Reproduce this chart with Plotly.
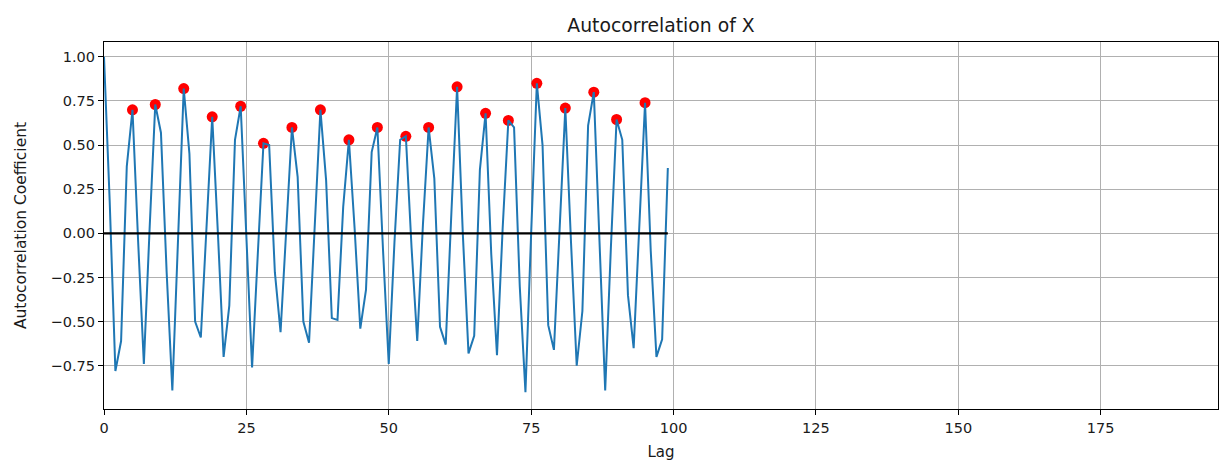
import plotly.graph_objects as go

# Autocorrelation coefficients for lags 0..99
lags = list(range(100))
acf = [
    1.00, 0.18, -0.78, -0.61, 0.38, 0.70, -0.05, -0.74, 0.02, 0.73,
    0.57, -0.22, -0.89, -0.03, 0.82, 0.45, -0.50, -0.59, 0.03, 0.66,
    0.00, -0.70, -0.41, 0.53, 0.72, 0.00, -0.76, -0.12, 0.51, 0.50,
    -0.22, -0.56, 0.00, 0.60, 0.32, -0.50, -0.62, 0.05, 0.70, 0.30,
    -0.48, -0.49, 0.15, 0.53, 0.03, -0.54, -0.32, 0.46, 0.60, -0.10,
    -0.74, -0.05, 0.53, 0.55, -0.08, -0.61, 0.05, 0.60, 0.31, -0.53,
    -0.63, 0.12, 0.83, 0.00, -0.68, -0.58, 0.36, 0.68, -0.12, -0.69,
    0.03, 0.64, 0.60, -0.30, -0.90, 0.00, 0.85, 0.50, -0.52, -0.66,
    0.02, 0.71, -0.05, -0.75, -0.44, 0.61, 0.80, 0.00, -0.89, -0.08,
    0.645, 0.53, -0.35, -0.65, 0.07, 0.74, -0.10, -0.70, -0.60, 0.37,
]

# Lags flagged as local peaks
peak_lags = [5, 9, 14, 19, 24, 28, 33, 38, 43, 48, 53, 57, 62, 67, 71, 76, 81, 86, 90, 95]
peak_vals = [acf[k] for k in peak_lags]

x_ticks = [0, 25, 50, 75, 100, 125, 150, 175]
y_ticks = [1.0, 0.75, 0.5, 0.25, 0.0, -0.25, -0.5, -0.75]
y_tick_text = [f"{v:.2f}".replace("-", "\u2212") for v in y_ticks]

font_family = "DejaVu Sans"
text_color = "#1a1a1a"

fig = go.Figure()

fig.add_trace(go.Scatter(
    x=peak_lags, y=peak_vals, mode="markers",
    marker=dict(color="#ff0000", size=11, line=dict(width=0)),
    showlegend=False,
))

fig.add_trace(go.Scatter(
    x=lags, y=acf, mode="lines",
    line=dict(color="#1f77b4", width=2),
    showlegend=False,
))

fig.add_trace(go.Scatter(
    x=[lags[0], lags[-1]], y=[0, 0], mode="lines",
    line=dict(color="#000000", width=2.2),
    showlegend=False,
))

axis_common = dict(
    showline=True, linecolor="#000000", linewidth=1.2, mirror=True,
    showgrid=True, gridcolor="#b0b0b0", gridwidth=1,
    ticks="outside", ticklen=5, tickwidth=1.2, tickcolor="#000000",
    zeroline=False,
    tickfont=dict(family=font_family, size=14.5, color=text_color),
)

fig.update_xaxes(
    range=[0, 195.6], tickvals=x_ticks, ticktext=[str(t) for t in x_ticks],
    title=dict(text="Lag", font=dict(family=font_family, size=15, color=text_color), standoff=11),
    **axis_common,
)
fig.update_yaxes(
    range=[-0.995, 1.084], tickvals=y_ticks, ticktext=y_tick_text,
    title=dict(text="Autocorrelation Coefficient", font=dict(family=font_family, size=15.5, color=text_color), standoff=20),
    **axis_common,
)

fig.update_layout(
    width=1222, height=463,
    margin=dict(l=104, r=4, t=42, b=54),
    paper_bgcolor="#ffffff", plot_bgcolor="#ffffff",
    title=dict(
        text="Autocorrelation of X", x=0.5, xanchor="center", xref="paper",
        y=1 - 25 / 463, yanchor="middle",
        font=dict(family=font_family, size=18.8, color=text_color),
    ),
)

fig.write_html("out.html")
